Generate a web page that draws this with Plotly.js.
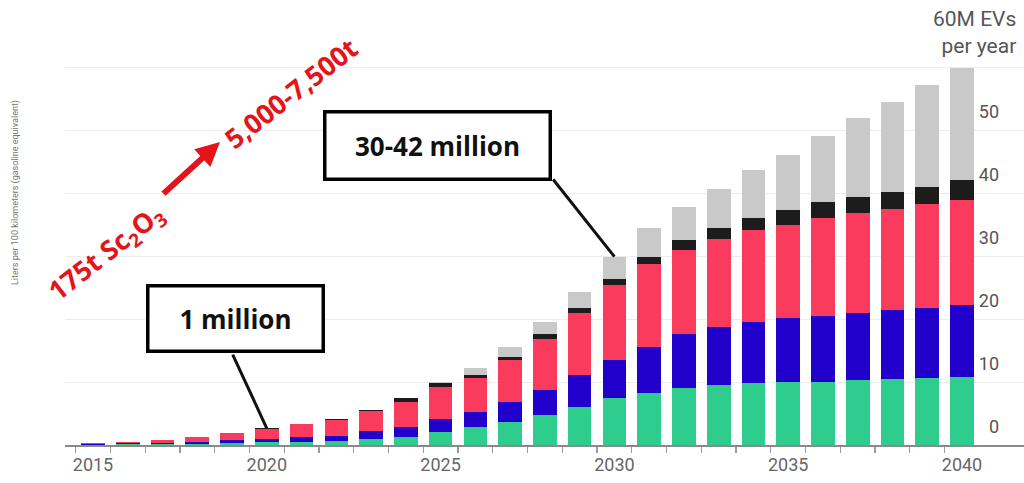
<!DOCTYPE html>
<html><head><meta charset="utf-8">
<script src="https://cdn.plot.ly/plotly-3.0.1.min.js"></script>
<style>html,body{margin:0;padding:0;background:#fff}#chart{width:1024px;height:483px}</style>
</head><body><div id="chart"></div>
<script>
// ---- data (million EVs per year, stacked segments) ----
const years = [2015,2016,2017,2018,2019,2020,2021,2022,2023,2024,2025,2026,2027,2028,2029,2030,2031,2032,2033,2034,2035,2036,2037,2038,2039,2040];
const seriesGreen = [0.05,0.1,0.1,0.2,0.3,0.4,0.5,0.6,1.0,1.3,2.1,2.9,3.7,4.8,6.1,7.4,8.2,9.0,9.5,9.8,10.0,10.0,10.3,10.5,10.6,10.8];
const seriesBlue  = [0.1,0.15,0.25,0.35,0.5,0.6,0.8,0.9,1.3,1.6,2.0,2.4,3.2,3.9,5.0,6.1,7.4,8.6,9.3,9.8,10.1,10.5,10.6,10.9,11.2,11.5];
const seriesRed   = [0.1,0.25,0.5,0.75,1.1,1.6,2.0,2.5,3.1,4.0,5.15,5.3,6.6,8.2,9.8,11.9,13.2,13.4,13.9,14.5,14.8,15.6,16.0,16.0,16.5,16.6];
const seriesBlack = [0,0,0,0.05,0.05,0.05,0.1,0.15,0.2,0.5,0.55,0.5,0.5,0.7,0.8,0.9,1.1,1.5,1.7,2.0,2.4,2.4,2.5,2.8,2.6,3.1];
const seriesGray  = [0,0,0,0,0,0,0,0,0,0.05,0.25,1.1,1.6,2.0,2.6,3.6,4.5,5.2,6.2,7.5,8.8,10.5,12.5,14.3,16.3,17.9];
const xTickYears = [2015,2020,2025,2030,2035,2040];
const yTickVals = [0,10,20,30,40,50,60];
const yTickText = ['0','10','20','30','40','50',''];

const totals = years.map((_,i)=>seriesGreen[i]+seriesBlue[i]+seriesRed[i]+seriesBlack[i]+seriesGray[i]);
const idx = y => years.indexOf(y);
const halfTicks = years.map(y=>y-0.5).concat([years[years.length-1]+0.5]);

// ---- layout constants ----
const W=1024,H=483,L=65,R=0,T=40,B=38;
const pxPerYear = 34.76, pxPerUnit = 6.3;
const xr = [2015-(93-L)/pxPerYear, 2040+(W-R-962)/pxPerYear];
const yr = [0,(H-B-T)/pxPerUnit];
const px = x => (x-L)/(W-L-R);
const py = y => (H-B-y)/(H-B-T);

const mk = (vals,color)=>({type:'bar',x:years,y:vals,width:0.68,marker:{color:color,line:{width:0}},hoverinfo:'skip'});
const data = [
  mk(seriesGreen,'#2ecc8d'),
  mk(seriesBlue,'#2200cc'),
  mk(seriesRed,'#fb3b5e'),
  mk(seriesBlack,'#1c1c1c'),
  mk(seriesGray,'#c9c9c9')
];

const red = '#e3151b';
const C = {xanchor:'center',yanchor:'middle'};
const layout = {
  width:W,height:H,margin:{l:L,r:R,t:T,b:B},
  paper_bgcolor:'#fff',plot_bgcolor:'#fff',
  barmode:'stack',showlegend:false,
  font:{family:'Roboto, Arial, sans-serif'},
  xaxis:{range:xr,showline:true,linecolor:'#8a8a8a',linewidth:1.5,
    tickvals:xTickYears,ticks:'',ticklabelstandoff:3,tickfont:{size:18,color:'#666'},
    showgrid:false,zeroline:false,fixedrange:true,
    minor:{tickvals:halfTicks,ticks:'outside',ticklen:6,tickcolor:'#9a9a9a',tickwidth:1.2,showgrid:false}},
  yaxis:{range:yr,side:'right',tickvals:yTickVals,ticktext:yTickText,
    ticklabelposition:'inside',ticklabelshift:-18,ticklabelstandoff:22,
    ticks:'',showgrid:true,gridcolor:'#ececec',gridwidth:1,zeroline:false,showline:false,
    tickfont:{size:18,color:'#555'},fixedrange:true},
  annotations:[
    Object.assign({xref:'paper',yref:'paper',x:px(15),y:py(193),text:'Liters per 100 kilometers (gasoline equivalent)',
      textangle:-90,showarrow:false,font:{size:9,color:'#777'}},C),
    {xref:'paper',yref:'paper',x:1,xanchor:'right',xshift:-6,y:py(60),yanchor:'bottom',
      text:'60M EVs<br>per year',align:'right',showarrow:false,font:{size:21,color:'#555'}},
    Object.assign({xref:'paper',yref:'paper',x:px(437),y:py(145),text:'<b>30-42 million</b>',showarrow:false,
      font:{family:'Open Sans',size:26,color:'#111'},bordercolor:'#000',borderwidth:3.5,borderpad:1,
      bgcolor:'#fff',width:220,height:62},C),
    Object.assign({xref:'paper',yref:'paper',x:px(235),y:py(318),text:'<b>1 million</b>',showarrow:false,
      font:{family:'Open Sans',size:26,color:'#111'},bordercolor:'#000',borderwidth:3.5,borderpad:1,
      bgcolor:'#fff',width:170,height:60},C),
    {x:2030,y:totals[idx(2030)],text:'',showarrow:true,arrowhead:0,arrowwidth:3,arrowcolor:'#111',
      ax:552-(93+15*pxPerYear),ay:178-(H-B-totals[idx(2030)]*pxPerUnit),standoff:0},
    {x:2020,y:totals[idx(2020)],text:'',showarrow:true,arrowhead:0,arrowwidth:3,arrowcolor:'#111',
      ax:232-(93+5*pxPerYear),ay:353-(H-B-totals[idx(2020)]*pxPerUnit),standoff:0},
    {xref:'paper',yref:'paper',x:px(220),y:py(142),text:'',showarrow:true,arrowhead:2,arrowwidth:6,
      arrowsize:0.8,arrowcolor:red,ax:-58,ay:53,standoff:0},
    Object.assign({xref:'paper',yref:'paper',x:px(106),y:py(253),text:'<b>175t Sc<sub>2</sub>O<sub>3</sub></b>',
      textangle:-38,showarrow:false,font:{family:'Open Sans',size:27,color:red}},C),
    Object.assign({xref:'paper',yref:'paper',x:px(290),y:py(93),text:'<b>5,000-7,500t</b>',
      textangle:-38,showarrow:false,font:{family:'Open Sans',size:27,color:red}},C)
  ]
};
Plotly.newPlot('chart',data,layout,{staticPlot:true,displayModeBar:false});
</script></body></html>
